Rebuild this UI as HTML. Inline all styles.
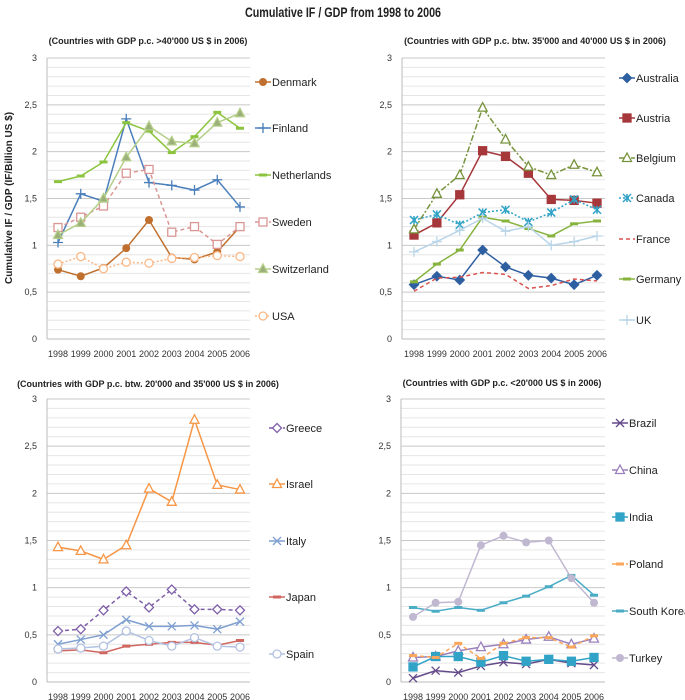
<!DOCTYPE html>
<html><head><meta charset="utf-8"><style>
body{margin:0;background:#fff;}
svg{display:block;font-family:"Liberation Sans",sans-serif;}
</style></head><body>
<svg id="c" width="685" height="700" viewBox="0 0 685 700">
<text x="343" y="17" text-anchor="middle" font-size="14" font-weight="bold" textLength="196" lengthAdjust="spacingAndGlyphs" fill="#222">Cumulative IF / GDP from 1998 to 2006</text>
<text transform="translate(12,198) rotate(-90)" text-anchor="middle" font-size="10" font-weight="bold" fill="#222">Cumulative IF / GDP (IF/Billion US $)</text>
</svg>
<script>
const years = ["1998","1999","2000","2001","2002","2003","2004","2005","2006"];
const yTicks = [0,0.5,1,1.5,2,2.5,3];
const yTickLabels = ["0","0,5","1","1,5","2","2,5","3"];
const denmark = [0.74,0.67,0.76,0.97,1.27,0.87,0.85,0.93,1.2];
const finland = [1.03,1.55,1.47,2.35,1.67,1.64,1.59,1.7,1.41];
const netherlands = [1.68,1.74,1.89,2.31,2.22,1.99,2.16,2.42,2.25];
const sweden = [1.19,1.3,1.42,1.77,1.81,1.14,1.2,1.01,1.2];
const switzerland = [1.11,1.24,1.5,1.94,2.27,2.11,2.09,2.31,2.41];
const usa = [0.8,0.88,0.75,0.82,0.81,0.86,0.87,0.89,0.88];
const australia = [0.58,0.67,0.63,0.95,0.77,0.68,0.65,0.58,0.68];
const austria = [1.11,1.24,1.54,2.01,1.95,1.77,1.49,1.48,1.45];
const belgium = [1.17,1.55,1.75,2.47,2.13,1.84,1.75,1.86,1.78];
const canada = [1.27,1.33,1.22,1.35,1.38,1.25,1.35,1.49,1.38];
const france = [0.51,0.65,0.66,0.71,0.69,0.54,0.57,0.64,0.62];
const germany = [0.61,0.8,0.95,1.3,1.26,1.18,1.1,1.23,1.26];
const uk = [0.93,1.04,1.16,1.29,1.15,1.2,1.0,1.04,1.1];
const greece = [0.54,0.56,0.76,0.96,0.79,0.98,0.77,0.77,0.76];
const israel = [1.43,1.39,1.3,1.45,2.05,1.91,2.78,2.09,2.04];
const italy = [0.4,0.45,0.5,0.66,0.59,0.59,0.6,0.56,0.64];
const japan = [0.33,0.34,0.31,0.38,0.4,0.42,0.42,0.39,0.44];
const spain = [0.35,0.36,0.38,0.54,0.44,0.38,0.47,0.38,0.37];
const brazil = [0.04,0.12,0.1,0.17,0.21,0.19,0.24,0.2,0.18];
const china = [0.26,0.27,0.33,0.37,0.4,0.45,0.48,0.4,0.46];
const india = [0.16,0.27,0.27,0.21,0.28,0.22,0.24,0.22,0.26];
const poland = [0.28,0.26,0.41,0.25,0.41,0.47,0.47,0.37,0.49];
const southKorea = [0.79,0.75,0.79,0.76,0.84,0.91,1.01,1.13,0.92];
const turkey = [0.69,0.84,0.85,1.45,1.55,1.48,1.5,1.1,0.84];

const panels = [
 {name:"panel-gt-40000",title:"(Countries with GDP p.c. >40'000 US $ in 2006)",tx:148,ty:44,ax:47,x0:58,x1:240,right:250,yTop:58,yBot:339,lx:263,ly:[82,128,175,222,269,316],
  series:[["Denmark",denmark,"#C0702E","","dot",1],["Finland",finland,"#4A7EBB","","plus",0],["Netherlands",netherlands,"#8CC43F","","dash",0],
   ["Sweden",sweden,"#D99694","4,3","square",0],["Switzerland",switzerland,"#B5CF8A","","tri",1],["USA",usa,"#FAB887","2,2","circle",0]]},
 {name:"panel-35000-40000",title:"(Countries with GDP p.c. btw. 35'000 and 40'000 US $ in 2006)",tx:535,ty:44,ax:402,x0:414,x1:597,right:605,yTop:58,yBot:339,lx:627,ly:[78,118,158,198,239,279,320],
  series:[["Australia",australia,"#2E5FA1","","diamond",1],["Austria",austria,"#A6373A","","square",1],["Belgium",belgium,"#77933C","6,2,2,2","tri",0],
   ["Canada",canada,"#31A3C6","2,2","star",0],["France",france,"#D9534F","4,3","",0],["Germany",germany,"#86B33D","","dash",0],["UK",uk,"#B9D5E8","","plus",0]]},
 {name:"panel-20000-35000",title:"(Countries with GDP p.c. btw. 20'000 and 35'000 US $ in 2006)",tx:148,ty:387,ax:47,x0:58,x1:240,right:250,yTop:399,yBot:682,lx:277,ly:[428,484,541,597,654],
  series:[["Greece",greece,"#7F5FA8","4,3","diamond",0],["Israel",israel,"#F79646","","tri",0],["Italy",italy,"#7F9FD0","","x",0],
   ["Japan",japan,"#D06660","","dash",0],["Spain",spain,"#B3C2E2","","circle",0]]},
 {name:"panel-lt-20000",title:"(Countries with GDP p.c. <20'000 US $ in 2006)",tx:502,ty:386,ax:401,x0:413,x1:594,right:605,yTop:399,yBot:682,lx:620,ly:[423,470,517,564,611,658],
  series:[["Brazil",brazil,"#654A8A","","x",0],["China",china,"#9A80BC","","tri",0],["India",india,"#31A3C6","","square",1],
   ["Poland",poland,"#F9A65A","4,3","dash",0],["South Korea",southKorea,"#4BACC6","","dash",0],["Turkey",turkey,"#C0B7D1","","dot",1]]}
];
const NS="http://www.w3.org/2000/svg";
const svg=document.getElementById('c');
function mk(tag,attrs,parent){const e=document.createElementNS(NS,tag);for(const k in attrs)e.setAttribute(k,attrs[k]);parent.appendChild(e);return e;}
function marker(g,type,x,y,c,filled){
  const f=filled?c:"#fff";let e=null;
  if(type==="dot"){e=mk('circle',{cx:x,cy:y,r:4,fill:c},g);}
  else if(type==="circle"){e=mk('circle',{cx:x,cy:y,r:4,fill:"#fff",stroke:c,'stroke-width':1.3},g);}
  else if(type==="square"){e=mk('rect',{x:x-4,y:y-4,width:8,height:8,fill:f,stroke:c,'stroke-width':1.3},g);}
  else if(type==="diamond"){e=mk('path',{d:`M${x} ${y-4.5}L${x+4.5} ${y}L${x} ${y+4.5}L${x-4.5} ${y}Z`,fill:f,stroke:c,'stroke-width':1.3},g);}
  else if(type==="tri"){e=mk('path',{d:`M${x} ${y-5}L${x+4.5} ${y+3.5}L${x-4.5} ${y+3.5}Z`,fill:filled?"#9BAF7A":"#fff",stroke:c,'stroke-width':1.3},g);}
  else if(type==="plus"){e=mk('path',{d:`M${x-5} ${y}H${x+5}M${x} ${y-5}V${y+5}`,stroke:c,'stroke-width':1.3,fill:"none"},g);}
  else if(type==="x"){e=mk('path',{d:`M${x-4} ${y-4}L${x+4} ${y+4}M${x+4} ${y-4}L${x-4} ${y+4}`,stroke:c,'stroke-width':1.3,fill:"none"},g);}
  else if(type==="star"){e=mk('path',{d:`M${x-4} ${y-4}L${x+4} ${y+4}M${x+4} ${y-4}L${x-4} ${y+4}M${x} ${y-4}V${y+4}`,stroke:c,'stroke-width':1.5,fill:"none"},g);}
  else if(type==="dash"){e=mk('path',{d:`M${x-4} ${y}H${x+4}`,stroke:c,'stroke-width':3,fill:"none"},g);}
  if(e){}
}
panels.forEach(p=>{
  const g=mk('g',{},svg);
  
  
  const ys=v=>p.yBot-(v/3)*(p.yBot-p.yTop);
  const xs=i=>p.x0+i*(p.x1-p.x0)/(years.length-1);
  const t=mk('text',{x:p.tx,y:p.ty,'text-anchor':'middle','font-size':9,'font-weight':'bold',fill:'#222'},g);t.textContent=p.title;
  
  
  for(let k=1;k<=30;k++){const y=ys(k/10);mk('line',{x1:p.ax,x2:p.right,y1:y,y2:y,stroke:k%5===0?'#c8c8c8':'#e6e6e6','stroke-width':1},g);}
  mk('line',{x1:p.ax,x2:p.ax,y1:p.yTop,y2:p.yBot,stroke:'#bbb'},g);
  mk('line',{x1:p.ax,x2:p.right,y1:p.yBot,y2:p.yBot,stroke:'#bbb'},g);
  yTicks.forEach((v,i)=>{const e=mk('text',{x:p.ax-10,y:ys(v)+3,'text-anchor':'end','font-size':9,fill:'#333'},g);e.textContent=yTickLabels[i];
    
    });
  years.forEach((yr,i)=>{const e=mk('text',{x:xs(i),y:p.yBot+18,'text-anchor':'middle','font-size':9,fill:'#333'},g);e.textContent=yr;
    
    });
  p.series.forEach((s,si)=>{
    const [nm,vals,c,dash,mt,filled]=s;
    const sg=mk('g',{},g);
    
    
    const pts=vals.map((v,i)=>xs(i)+','+ys(v)).join(' ');
    const pl=mk('polyline',{points:pts,fill:'none',stroke:c,'stroke-width':1.5,'stroke-dasharray':dash||'none'},sg);
    
    
    vals.forEach((v,i)=>marker(sg,mt,xs(i),ys(v),c,filled));
    const lg=mk('g',{},g);
    
    
    const ly=p.ly[si];
    mk('line',{x1:p.lx-8,x2:p.lx+8,y1:ly,y2:ly,stroke:c,'stroke-width':1.5,'stroke-dasharray':dash||'none'},lg);
    marker(lg,mt,p.lx,ly,c,filled);
    const lt=mk('text',{x:p.lx+9,y:ly+4,'font-size':11,fill:'#222'},lg);lt.textContent=nm;
  });
});
</script>
</body></html>
